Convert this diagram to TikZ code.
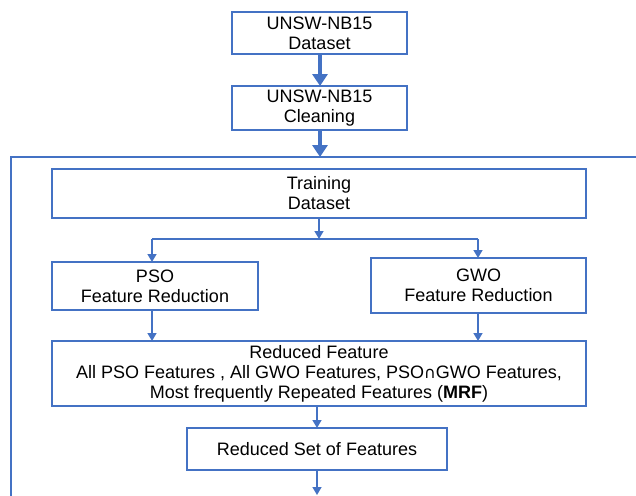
\documentclass[tikz,border=0pt]{standalone}
\usepackage{fontspec}
\setmainfont{Liberation Sans}
\newfontfamily\symfont{DejaVu Sans}
\usetikzlibrary{arrows.meta}
\definecolor{flowblue}{HTML}{4472C4}
\tikzset{
  box/.style={draw=flowblue, line width=1.5pt, fill=white, align=center,
    inner sep=0pt, outer sep=0pt,
    font=\fontsize{18}{20}\selectfont},
  thickflow/.style={draw=flowblue, line width=4pt,
    -{Triangle[width=15pt,length=12pt]}},
  thinflow/.style={draw=flowblue, line width=1.5pt,
    -{Triangle[width=9pt,length=8pt]}},
  frameline/.style={draw=flowblue, line width=1.5pt},
}
\begin{document}
\begin{tikzpicture}[x=1pt,y=-1pt]
\useasboundingbox (0,0) rectangle (636,495);

% outer frame, open to the right and below
\coordinate (frTL) at (11,157);
\coordinate (frTR) at (640,157);
\coordinate (frBL) at (11,500);
\draw[frameline] (frBL) -- (frTL) -- (frTR);

% boxes
\node[box, minimum width=175, minimum height=42] (ds) at (319.5,33) {UNSW-NB15\\Dataset};
\node[box, minimum width=175, minimum height=44] (cl) at (319.5,108) {UNSW-NB15\\Cleaning};
\node[box, minimum width=534, minimum height=49] (tr) at (319,193.5) {Training\\Dataset};
\node[box, minimum width=206, minimum height=48] (pso) at (155,286) {PSO\\Feature Reduction};
\node[box, minimum width=215, minimum height=55] (gwo) at (478.5,285.5) {GWO\\Feature Reduction};
\node[box, minimum width=534, minimum height=65] (red) at (319,373.5)
  {Reduced Feature\\All PSO Features , All GWO Features, PSO{\symfont\fontsize{16}{20}\selectfont ∩}GWO Features,\\Most frequently Repeated Features (\textbf{MRF})};
\node[box, minimum width=260, minimum height=42] (rset) at (317,449) {Reduced Set of Features};

% helper points
\coordinate (frIn) at (320,157);
\coordinate (split) at (319,239);
\coordinate (splitL) at (152,239);
\coordinate (splitR) at (478,239);
\coordinate (out) at (317,495);

% connectors
\draw[thickflow] (ds.south -| frIn) -- (cl.north -| frIn);
\draw[thickflow] (cl.south -| frIn) -- (frIn);
\draw[thinflow] (tr.south -| split) -- (split);
\draw[frameline] (splitL) -- (splitR);
\draw[thinflow] (splitL) -- (pso.north -| splitL);
\draw[thinflow] (splitR) -- (gwo.north -| splitR);
\draw[thinflow] (pso.south -| splitL) -- (red.north -| splitL);
\draw[thinflow] (gwo.south -| splitR) -- (red.north -| splitR);
\draw[thinflow] (red.south -| out) -- (rset.north -| out);
\draw[thinflow] (rset.south -| out) -- (out);
\end{tikzpicture}
\end{document}
